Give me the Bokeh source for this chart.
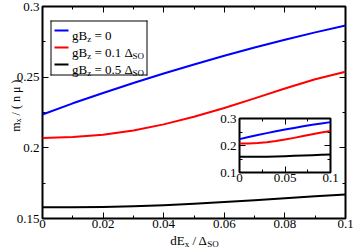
import math
from bokeh.plotting import figure
from bokeh.models import (Label, LinearAxis, Range1d,
                          FixedTicker, PrintfTickFormatter, CustomJSTickFormatter)
from bokeh.embed import file_html
from bokeh.resources import INLINE

# ---------------- data ----------------
x_vals = [0.0, 0.01, 0.02, 0.03, 0.04, 0.05, 0.06, 0.07, 0.08, 0.09, 0.1]
m_gb0 = [0.2236, 0.2315, 0.2388, 0.2459, 0.2526, 0.2590, 0.2651, 0.2710, 0.2765, 0.2817, 0.2866]
m_gb01 = [0.2070, 0.2076, 0.2093, 0.2123, 0.2166, 0.2220, 0.2282, 0.2350, 0.2420, 0.2485, 0.2538]
m_gb05 = [0.1580, 0.1580, 0.1582, 0.1586, 0.1594, 0.1604, 0.1616, 0.1629, 0.1643, 0.1657, 0.1670]
series_values = [m_gb0, m_gb01, m_gb05]
series_colors = ["#0000ff", "#ff0000", "#000000"]
legend_values = ["0", "0.1", "0.5"]
legend_units = [False, True, True]

x_major = [0.0, 0.02, 0.04, 0.06, 0.08, 0.1]
x_minor = [0.01, 0.03, 0.05, 0.07, 0.09]
y_major = [0.15, 0.2, 0.25, 0.3]
y_minor = [0.175, 0.225, 0.275]
ix_major = [0.0, 0.05, 0.1]
ix_minor = [0.025, 0.075]
iy_major = [0.1, 0.2, 0.3]
iy_minor = [0.15, 0.25]

FONT = "Liberation Serif"
FS = 13
SUB = 9

# ---------------- main figure ----------------
W, H = 354, 248
BL, BR, BT, BB = 42, 9, 6, 30

p = figure(width=W, height=H, x_range=Range1d(0.0, 0.1), y_range=Range1d(0.15, 0.3),
           output_backend="svg", toolbar_location=None,
           min_border_left=BL, min_border_right=BR, min_border_top=BT, min_border_bottom=BB,
           background_fill_color="white", border_fill_color="white",
           outline_line_color="black", outline_line_width=2)
p.grid.visible = False


def style_axis(ax, major, minor, show_labels, standoff):
    ax.ticker = FixedTicker(ticks=major, minor_ticks=minor)
    ax.axis_line_color = None
    ax.major_tick_in = 6
    ax.major_tick_out = 0
    ax.minor_tick_in = 3
    ax.minor_tick_out = 0
    ax.major_tick_line_width = 1
    ax.minor_tick_line_width = 1
    ax.major_tick_line_color = "black"
    ax.minor_tick_line_color = "black"
    ax.major_label_text_font = FONT
    ax.major_label_text_color = "black"
    if show_labels:
        ax.formatter = PrintfTickFormatter(format="%g")
        ax.major_label_text_font_size = f"{FS}px"
        ax.major_label_standoff = standoff
    else:
        ax.formatter = CustomJSTickFormatter(code="return ''")
        ax.major_label_text_font_size = "1px"
        ax.major_label_standoff = 0


style_axis(p.xaxis[0], x_major, x_minor, True, 1)
style_axis(p.yaxis[0], y_major, y_minor, True, 3)
top_ax = LinearAxis()
right_ax = LinearAxis()
style_axis(top_ax, x_major, x_minor, False, 0)
style_axis(right_ax, y_major, y_minor, False, 0)
p.add_layout(top_ax, "above")
p.add_layout(right_ax, "right")

for vals, col in zip(series_values, series_colors):
    p.line(x_vals, vals, line_color=col, line_width=2, line_join="round")

# ---------------- overlay for titles and legend (page-pixel ranges) ----------------
ov = figure(width=W, height=H, x_range=Range1d(0, W), y_range=Range1d(0, H),
            output_backend="svg", toolbar_location=None,
            x_axis_type=None, y_axis_type=None,
            min_border=0, min_border_left=0, min_border_right=0,
            min_border_top=0, min_border_bottom=0,
            background_fill_alpha=0.0, border_fill_alpha=0.0, outline_line_color=None)
ov.grid.visible = False
ov.styles = {"position": "absolute", "left": "0px", "top": "0px"}


def Y(py):
    # page pixel (from top) -> overlay coordinate (from bottom)
    return H - py


EM = {' ': 0.25, '.': 0.25, '=': 0.564, 'g': 0.5, 'B': 0.667, 'z': 0.444,
      'Δ': 0.612, 'S': 0.556, 'O': 0.722, 'm': 0.778, 'x': 0.5, '/': 0.278,
      '(': 0.333, ')': 0.333, 'n': 0.5, 'μ': 0.576, 'd': 0.5, 'E': 0.611}


def tw(t, size):
    return sum(EM.get(c, 0.5) for c in t) * size


def run_width(pieces):
    return sum(tw(t, s) for t, s, _ in pieces)


def text_run(fig, x0, y0, pieces, rotated=False):
    cur = 0.0
    for t, s, shift in pieces:
        lead = len(t) - len(t.lstrip(' '))
        cur += lead * EM[' '] * s
        core = t.strip(' ')
        if rotated:
            xx, yy, ang = x0 + shift, y0 - cur, math.pi / 2
        else:
            xx, yy, ang = x0 + cur, y0 + shift, 0.0
        fig.add_layout(Label(x=xx, y=Y(yy), text=core, angle=ang,
                             text_font=FONT, text_font_size=f"{s}px",
                             text_color="black", text_align="left",
                             text_baseline="alphabetic"))
        cur += tw(core, s) + (len(t) - lead - len(core)) * EM[' '] * s


# axis titles
ylab = [("m", 12, 0), ("x", 8, 3), (" / ( n μ )", 12, 0)]
text_run(ov, 15, 105 + run_width(ylab) / 2, ylab, rotated=True)
xlab = [("dE", FS, 0), ("x", SUB, 3.5), (" / Δ", FS, 0), ("SO", SUB, 3.5)]
text_run(ov, 194 - run_width(xlab) / 2, 240, xlab)

# legend: frame edges and sample lines in one vectorised segment call (integer widths)
LB_L, LB_R, LB_T, LB_B = 50.5, 146.5, 20.5, 74.5
row_y = [30.0, 47.0, 64.0]
seg_x0 = [LB_L, LB_R, LB_R, LB_L] + [55.0] * 3
seg_x1 = [LB_R, LB_R, LB_L, LB_L] + [67.0] * 3
seg_y0 = [Y(LB_T), Y(LB_T), Y(LB_B), Y(LB_B)] + [Y(r) for r in row_y]
seg_y1 = [Y(LB_T), Y(LB_B), Y(LB_B), Y(LB_T)] + [Y(r) for r in row_y]
seg_col = ["black"] * 4 + series_colors
seg_w = [1] * 4 + [2] * 3
ov.segment(x0=seg_x0, y0=seg_y0, x1=seg_x1, y1=seg_y1,
           line_color=seg_col, line_width=seg_w, line_cap="square")
for ry, lv, unit in zip(row_y, legend_values, legend_units):
    pieces = [("gB", FS, 0), ("z", SUB, 3.5), (" = " + lv, FS, 0)]
    if unit:
        pieces += [(" Δ", FS, 0), ("SO", SUB, 3.5)]
    text_run(ov, 71.5, ry + 4.5, pieces)

# ---------------- inset ----------------
IBL, IBR, IBT, IBB = 22, 9, 9, 16
IFW, IFH = 91, 54
inset = figure(width=IBL + IFW + IBR, height=IBT + IFH + IBB,
               x_range=Range1d(0.0, 0.1), y_range=Range1d(0.1, 0.3),
               output_backend="svg", toolbar_location=None,
               min_border_left=IBL, min_border_right=IBR, min_border_top=IBT, min_border_bottom=IBB,
               background_fill_color="white", border_fill_color="white", border_fill_alpha=0.0,
               outline_line_color="black", outline_line_width=2)
inset.grid.visible = False
style_axis(inset.xaxis[0], ix_major, ix_minor, True, 1)
style_axis(inset.yaxis[0], iy_major, iy_minor, True, 3)
itop = LinearAxis()
iright = LinearAxis()
style_axis(itop, ix_major, ix_minor, False, 0)
style_axis(iright, iy_major, iy_minor, False, 0)
inset.add_layout(itop, "above")
inset.add_layout(iright, "right")
for vals, col in zip(series_values, series_colors):
    inset.line(x_vals, vals, line_color=col, line_width=2, line_join="round")

inset.styles = {"position": "absolute", "left": f"{239 - IBL}px", "top": f"{118 - IBT}px"}

open("out.html", "w").write(file_html([p, ov, inset], INLINE))
